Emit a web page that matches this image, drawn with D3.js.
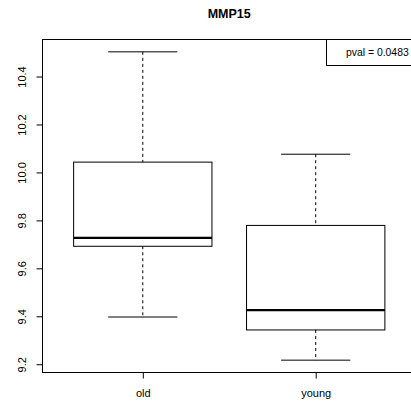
<!DOCTYPE html>
<html>
<head>
<meta charset="utf-8">
<script src="https://cdn.jsdelivr.net/npm/d3@7"></script>
<style>
  body { margin: 0; background: #fff; }
  text { font-family: "Liberation Sans", Arial, Helvetica, sans-serif; }
</style>
</head>
<body>
<script>
// boxplot summary values
var groups = ["old", "young"];
var upperWhisker = [10.503, 10.076];
var q3 = [10.043, 9.779];
var medians = [9.727, 9.426];
var q1 = [9.692, 9.343];
var lowerWhisker = [9.397, 9.217];
var yTicks = [9.2, 9.4, 9.6, 9.8, 10.0, 10.2, 10.4];
var pvalText = "pval = 0.0483";

var svgWidth = 411;
var svgHeight = 402;
var plot = { left: 42.5, right: 416, top: 39.5, bottom: 372.5 };

var svg = d3.select("body").append("svg")
  .attr("width", svgWidth)
  .attr("height", svgHeight);

// R style: 4% padding round the data range
var lo = d3.min(lowerWhisker), hi = d3.max(upperWhisker);
var pad = (hi - lo) * 0.04;
var y = d3.scaleLinear().domain([lo - pad, hi + pad]).range([plot.bottom, plot.top]);
var x = d3.scaleLinear().domain([0.42, 2.58]).range([plot.left, plot.right]);

var boxW = (x(2) - x(1)) * 0.8;
var capW = boxW * 0.5;

var g = svg.append("g");

groups.forEach(function(name, i) {
  var cx = x(i + 1);
  // whiskers (dashed)
  g.append("line")
    .attr("x1", cx).attr("x2", cx)
    .attr("y1", y(upperWhisker[i])).attr("y2", y(q3[i]))
    .attr("stroke", "#000").attr("stroke-dasharray", "3,3");
  g.append("line")
    .attr("x1", cx).attr("x2", cx)
    .attr("y1", y(q1[i])).attr("y2", y(lowerWhisker[i]))
    .attr("stroke", "#000").attr("stroke-dasharray", "3,3");
  // caps
  [upperWhisker[i], lowerWhisker[i]].forEach(function(v) {
    g.append("line")
      .attr("x1", cx - capW / 2).attr("x2", cx + capW / 2)
      .attr("y1", y(v)).attr("y2", y(v))
      .attr("stroke", "#000");
  });
  // box
  g.append("rect")
    .attr("x", cx - boxW / 2)
    .attr("y", y(q3[i]))
    .attr("width", boxW)
    .attr("height", y(q1[i]) - y(q3[i]))
    .attr("fill", "none")
    .attr("stroke", "#000");
  // median
  g.append("line")
    .attr("x1", cx - boxW / 2).attr("x2", cx + boxW / 2)
    .attr("y1", y(medians[i])).attr("y2", y(medians[i]))
    .attr("stroke", "#000").attr("stroke-width", 2.2);
});

// plot frame
svg.append("rect")
  .attr("x", plot.left).attr("y", plot.top)
  .attr("width", plot.right - plot.left)
  .attr("height", plot.bottom - plot.top)
  .attr("fill", "none").attr("stroke", "#000");

// y axis
var leftAxis = d3.axisLeft(y).tickValues(yTicks).tickFormat(d3.format(".1f")).tickSize(6);
var yAxis = svg.append("g")
  .attr("transform", `translate(${plot.left}, 0)`)
  .call(leftAxis);
yAxis.select(".domain")
  .attr("d", `M0,${y(yTicks[0])}V${y(yTicks[yTicks.length - 1])}`);
yAxis.selectAll("text")
  .attr("x", 0).attr("y", -17).attr("dy", 0)
  .attr("transform", "rotate(-90)")
  .attr("text-anchor", "middle")
  .attr("font-size", 11)
  .attr("font-family", "Liberation Sans, Arial, sans-serif")
  .attr("fill", "#000");

// x axis
var bottomAxis = d3.axisBottom(x).tickValues([1, 2]).tickFormat(function(d) { return groups[d - 1]; }).tickSize(6);
var xAxis = svg.append("g")
  .attr("transform", `translate(0, ${plot.bottom})`)
  .call(bottomAxis);
xAxis.select(".domain").attr("d", `M${x(1)},0H${x(2)}`);
xAxis.selectAll("text")
  .attr("y", 24).attr("dy", 0)
  .attr("font-size", 11)
  .attr("font-family", "Liberation Sans, Arial, sans-serif")
  .attr("fill", "#000");

// title
svg.append("text")
  .attr("x", (plot.left + plot.right) / 2 + 0)
  .attr("y", 18)
  .attr("text-anchor", "middle")
  .attr("font-size", 12.5)
  .attr("font-weight", "bold")
  .text("MMP15");

// legend in the top right
svg.append("rect")
  .attr("x", 326.5).attr("y", plot.top)
  .attr("width", plot.right - 326.5).attr("height", 26)
  .attr("fill", "#fff").attr("stroke", "#000");
svg.append("text")
  .attr("x", 346).attr("y", 56)
  .attr("font-size", 10.4)
  .text(pvalText);
</script>
</body>
</html>
